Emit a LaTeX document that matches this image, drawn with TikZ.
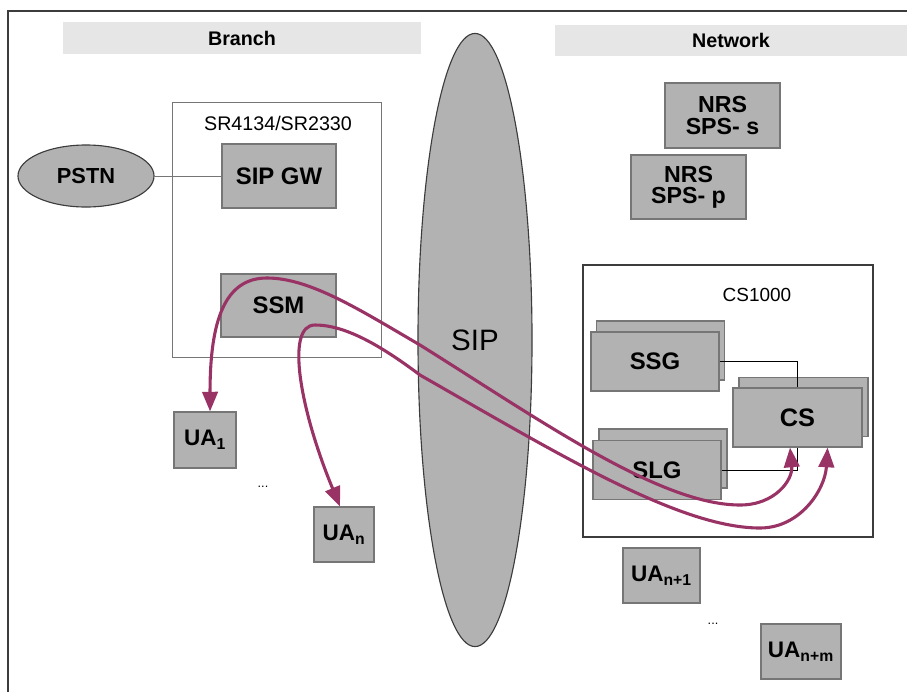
\documentclass[tikz,border=0pt]{standalone}
\usepackage{fontspec}
\setmainfont{Liberation Sans}
\usetikzlibrary{shapes,arrows.meta,calc}
\usepackage{xcolor}
\definecolor{boxgray}{RGB}{178,178,178}
\definecolor{boxline}{RGB}{118,118,118}
\definecolor{headgray}{RGB}{230,230,230}
\definecolor{frameline}{RGB}{60,60,60}
\definecolor{plum}{RGB}{153,51,102}

\begin{document}
\begin{tikzpicture}[x=0.025cm,y=-0.025cm]
		\tikzstyle{every node}=[inner sep=0pt]
		\tikzstyle{box}=[draw=boxline,fill=boxgray,line width=0.8pt,font=\bfseries\fontsize{17}{17}\selectfont]
		\tikzstyle{header}=[fill=headgray,font=\bfseries\fontsize{14}{14}\selectfont]
		\tikzstyle{oval}=[ellipse,draw=frameline,fill=boxgray,line width=0.8pt]
		\tikzstyle{link}=[draw=black,line width=0.7pt]
		\tikzstyle{flow}=[draw=plum,line width=2.2pt,arrows={Triangle[length=14pt,width=11pt]-Triangle[length=14pt,width=11pt]}]
		\useasboundingbox (0,0) rectangle (907,692);
		\draw[draw=frameline,line width=1.4pt] (907,11) -- (8,11) -- (8,692);
		\node[header,minimum width=8.95cm,minimum height=0.8cm] (branch) at (242,38) {Branch};
		\node[header,minimum width=8.8cm,minimum height=0.775cm] (network) at (731,40.5) {Network};
		\node[draw=boxline,line width=0.6pt,minimum width=5.225cm,minimum height=6.375cm] (sr) at (276.5,229.5) {};
		\node[font=\fontsize{14}{14}\selectfont] (srname) at (278,123) {SR4134/SR2330};
		\node[oval,minimum width=3.4cm,minimum height=1.55cm,font=\bfseries\fontsize{15.5}{15.5}\selectfont] (pstn) at (86,176) {PSTN};
		\node[box,minimum width=2.85cm,minimum height=1.6cm] (sipgw) at (279,176) {SIP GW};
		\draw[draw=boxline,line width=0.5pt] (pstn.east) -- (sipgw.west);
		\node[box,minimum width=2.875cm,minimum height=1.575cm] (ssm) at (278.5,305.5) {SSM};
		\node[box,minimum width=1.55cm,minimum height=1.4cm,font=\bfseries\fontsize{16}{16}\selectfont] (ua1) at (205,440) {UA\textsubscript{1}};
		\node[font=\fontsize{9}{9}\selectfont] (dotsa) at (263,487) {...};
		\node[box,minimum width=1.5cm,minimum height=1.375cm,font=\bfseries\fontsize{16}{16}\selectfont] (uan) at (344,534.5) {UA\textsubscript{n}};
		\node[oval,minimum width=2.85cm,minimum height=15.325cm,font=\fontsize{21}{21}\selectfont] (sip) at (475,340) {SIP};
		\node[box,minimum width=2.875cm,minimum height=1.625cm,align=center,font=\bfseries\fontsize{16.5}{15}\selectfont] (nrss) at (722.5,115.5) {NRS\\SPS- s};
		\node[box,minimum width=2.875cm,minimum height=1.6cm,align=center,font=\bfseries\fontsize{16.5}{15}\selectfont] (nrsp) at (688.5,187) {NRS\\SPS- p};
		\node[draw=frameline,line width=0.8pt,minimum width=7.25cm,minimum height=6.8cm] (cs1000) at (728,401) {};
		\node[font=\fontsize{13.5}{13.5}\selectfont] (csname) at (757,295) {CS1000};
		\node[box,minimum width=3.2cm,minimum height=1.475cm] (ssgback) at (660.5,350.5) {};
		\node[box,minimum width=3.2cm,minimum height=1.475cm] (ssg) at (655,361.5) {SSG};
		\node[box,minimum width=3.2cm,minimum height=1.475cm] (slgback) at (663,458.5) {};
		\node[box,minimum width=3.2cm,minimum height=1.475cm] (slg) at (657,470) {SLG};
		\node[box,minimum width=3.225cm,minimum height=1.475cm] (csback) at (803.5,407) {};
		\node[box,minimum width=3.225cm,minimum height=1.475cm,font=\bfseries\fontsize{18}{18}\selectfont] (cs) at (797.5,417.5) {CS};
		\draw[link] (ssg.east) -| (cs.north);
		\draw[link] (slg.east) -| (cs.south);
		\node[box,minimum width=1.925cm,minimum height=1.375cm,font=\bfseries\fontsize{16}{16}\selectfont] (uanp) at (661.5,575.5) {UA\textsubscript{n+1}};
		\node[font=\fontsize{9}{9}\selectfont] (dotsb) at (713,624) {...};
		\node[box,minimum width=2cm,minimum height=1.375cm,font=\bfseries\fontsize{16}{16}\selectfont] (uanm) at (801,651.5) {UA\textsubscript{n+m}};
		\draw[flow] (ua1.80) .. controls (210,320) and (225,278) .. (267,278)
			.. controls (310,278) and (360,310) .. (420,345)
			.. controls (540,420) and (660,505) .. (740,505)
			.. controls (775,505) and (793,480) .. (cs.-104);
		\draw[flow] (uan.98) .. controls (300,410) and (285,325) .. (315,325)
			.. controls (345,325) and (380,345) .. (420,375)
			.. controls (560,455) and (680,528) .. (760,528)
			.. controls (800,528) and (825,490) .. (cs.-45);
\end{tikzpicture}
\end{document}
